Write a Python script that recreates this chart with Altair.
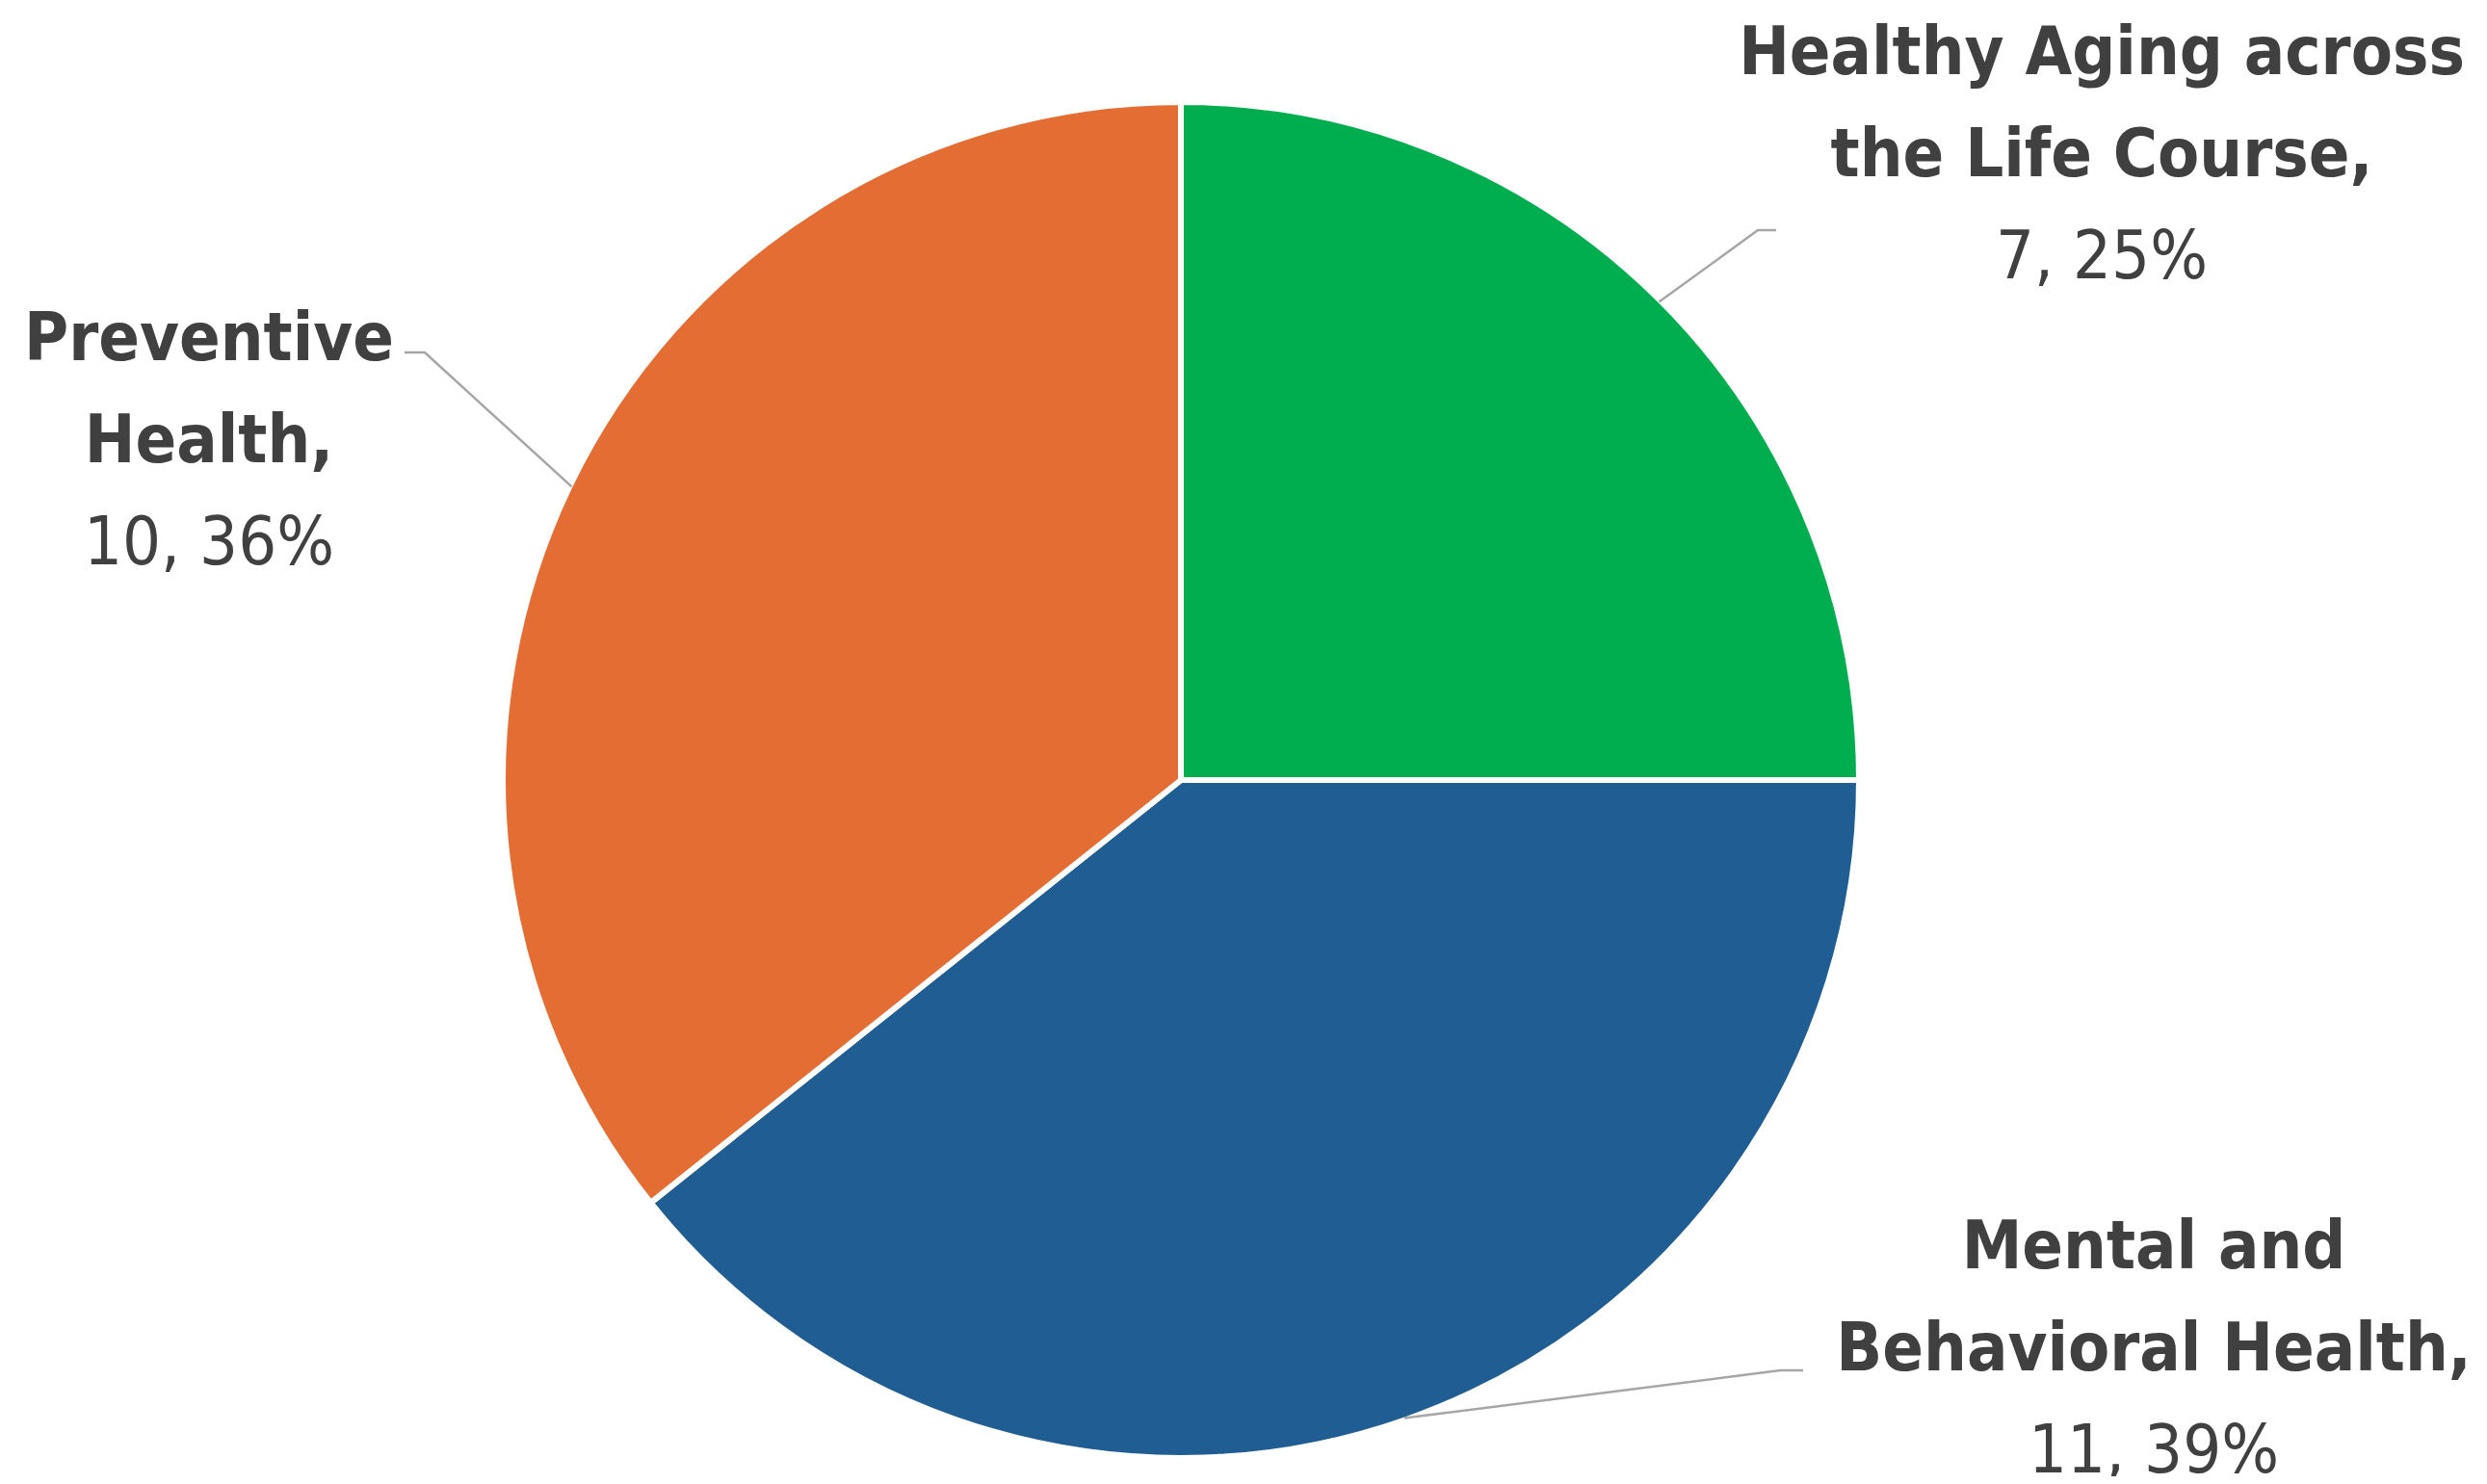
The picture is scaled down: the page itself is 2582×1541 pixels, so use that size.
import math
import altair as alt
import pandas as pd

# ---- data ----
categories = ["Healthy Aging across the Life Course", "Mental and Behavioral Health", "Preventive Health"]
values = [7, 11, 10]
name_lines = [["Healthy Aging across", "the Life Course,"], ["Mental and", "Behavioral Health,"], ["Preventive", "Health,"]]
colors = ["#00AE4F", "#1F5D93", "#E46D33"]

# ---- layout (pixels, chart coordinates) ----
W, H = 2566, 1525
CX, CY, R = 1218, 802, 704
FONT = "Liberation Sans Narrow, DejaVu Sans Condensed, Roboto Condensed, Liberation Sans"
FS = 70
LINE_H = 106
label_center_x = [2174, 2228, 209]
label_first_baseline = [69, 1309, 366]
elbow_pts = [(1817, 231), (1840, 1415), (433, 358)]
end_pts = [(1836, 231), (1864, 1415), (412, 358)]

total = sum(values)
df = pd.DataFrame({"cat": categories, "value": values, "idx": list(range(len(values)))})

bold_rows, reg_rows, line_rows = [], [], []
cum = 0
for i, (c, v) in enumerate(zip(categories, values)):
    pct = round(100 * v / total)
    for j, t in enumerate(name_lines[i]):
        bold_rows.append({"cat": c, "t": t, "x": label_center_x[i], "y": label_first_baseline[i] + j * LINE_H})
    reg_rows.append({"cat": c, "t": f"{v}, {pct}%", "x": label_center_x[i],
                     "y": label_first_baseline[i] + len(name_lines[i]) * LINE_H})
    mid = (cum + v / 2) / total * 2 * math.pi
    cum += v
    ex, ey = CX + (R - 2) * math.sin(mid), CY - (R - 2) * math.cos(mid)
    for k, (px, py) in enumerate([(ex, ey), elbow_pts[i], end_pts[i]]):
        line_rows.append({"cat": c, "k": k, "x": px, "y": py})

xs = alt.Scale(domain=[0, W], range=[0, W])
ys = alt.Scale(domain=[0, H], range=[0, H])

pie = alt.Chart(df).mark_arc(outerRadius=R, stroke="white", strokeWidth=6).encode(
    theta=alt.Theta("value:Q", stack=True),
    color=alt.Color("cat:N", scale=alt.Scale(domain=categories, range=colors), legend=None),
    order=alt.Order("idx:Q"),
    x=alt.value(CX), y=alt.value(CY),
)

lines = alt.Chart(pd.DataFrame(line_rows)).mark_line(color="#A6A6A6", strokeWidth=2.5).encode(
    x=alt.X("x:Q", scale=xs, axis=None),
    y=alt.Y("y:Q", scale=ys, axis=None),
    detail="cat:N",
    order="k:Q",
)

bold = alt.Chart(pd.DataFrame(bold_rows)).mark_text(
    font=FONT, fontSize=FS, fontWeight="bold", color="#404040", align="center", baseline="alphabetic"
).encode(x=alt.X("x:Q", scale=xs, axis=None), y=alt.Y("y:Q", scale=ys, axis=None), text="t:N")

reg = alt.Chart(pd.DataFrame(reg_rows)).mark_text(
    font=FONT, fontSize=FS, fontWeight="normal", color="#404040", align="center", baseline="alphabetic"
).encode(x=alt.X("x:Q", scale=xs, axis=None), y=alt.Y("y:Q", scale=ys, axis=None), text="t:N")

chart = alt.layer(pie, lines, bold, reg).properties(
    width=W, height=H, padding=0, autosize=alt.AutoSizeParams(type="none")
).configure_view(stroke=None)

chart.save("out.html", embed_options={"renderer": "svg", "actions": False})
